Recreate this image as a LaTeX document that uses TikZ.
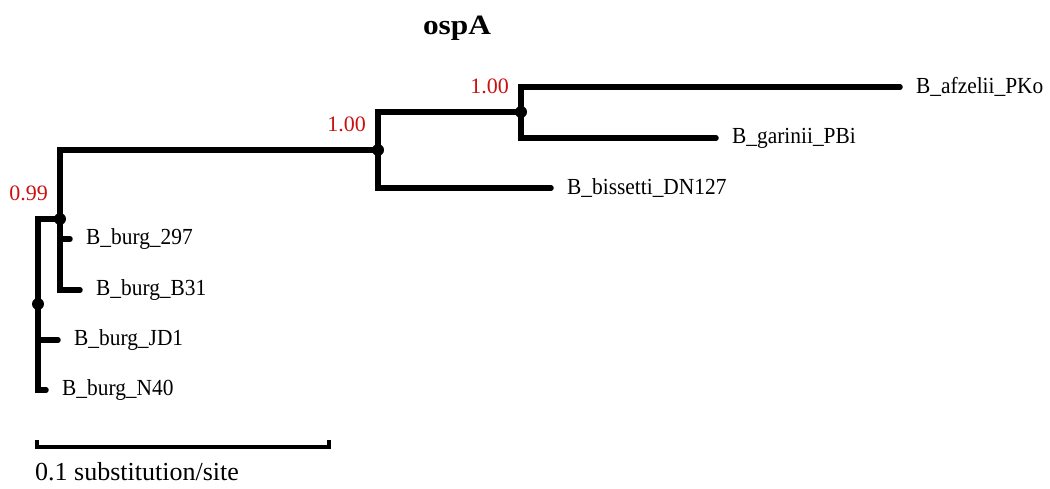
\documentclass[tikz,border=0pt]{standalone}
\usepackage{fontspec}
\setmainfont{Liberation Serif}
\definecolor{suppred}{RGB}{204,16,16}
\newcommand{\taxname}[1]{\scalebox{0.93}[1]{#1}}
\begin{document}
\begin{tikzpicture}[x=1pt,y=-1pt,
  branch/.style={line width=5.5pt, line cap=round, line join=miter},
  nodedot/.style={circle, fill=black, inner sep=0pt, minimum size=12pt},
  taxon/.style={anchor=west, inner sep=0pt, xshift=16pt,
    font=\fontsize{23}{25}\selectfont},
  support/.style={anchor=base east, inner sep=0pt, xshift=-12pt, yshift=18pt,
    text=suppred, font=\fontsize{22}{24}\selectfont},
  scalebar/.style={line width=4.5pt, line join=miter}]
\useasboundingbox (0,0) rectangle (1050,489);

% title
\node[anchor=base, inner sep=0pt, font=\fontsize{28}{30}\selectfont\bfseries]
  (title) at (457,35) {\scalebox{1.12}[1]{ospA}};

% internal nodes
\coordinate (R) at (38,304);
\coordinate (A) at (60,219);
\coordinate (C) at (378,150);
\coordinate (D) at (521,112);

% tips (end of branch)
\coordinate (afz) at (900,87);
\coordinate (gar) at (716,138);
\coordinate (bis) at (551,188);
\coordinate (b297) at (70,239);
\coordinate (b31) at (80,290);
\coordinate (jd1) at (58,340);
\coordinate (n40) at (46,390);

% branches
\draw[branch] (R) |- (A);
\draw[branch] (R) |- (jd1);
\draw[branch] (R) |- (n40);
\draw[branch] (A) |- (C);
\draw[branch] (A) |- (b297);
\draw[branch] (A) |- (b31);
\draw[branch] (C) |- (D);
\draw[branch] (C) |- (bis);
\draw[branch] (D) |- (afz);
\draw[branch] (D) |- (gar);

% node dots
\node[nodedot] (dR) at (R) {};
\node[nodedot] (dA) at (A) {};
\node[nodedot] (dC) at (C) {};
\node[nodedot] (dD) at (D) {};

% support values
\node[support] (sA) at (A) {0.99};
\node[support] (sC) at (C) {1.00};
\node[support] (sD) at (D) {1.00};

% tip labels
\node[taxon] (lafz) at (afz) {\taxname{B\_afzelii\_PKo}};
\node[taxon] (lgar) at (gar) {\taxname{B\_garinii\_PBi}};
\node[taxon] (lbis) at (bis) {\taxname{B\_bissetti\_DN127}};
\node[taxon] (l297) at (b297) {\taxname{B\_burg\_297}};
\node[taxon] (lb31) at (b31) {\taxname{B\_burg\_B31}};
\node[taxon] (ljd1) at (jd1) {\taxname{B\_burg\_JD1}};
\node[taxon] (ln40) at (n40) {\taxname{B\_burg\_N40}};

% scale bar
\coordinate (sbL) at (37,447);
\coordinate (sbR) at (329,447);
\draw[scalebar] ([yshift=7pt]sbL) -- (sbL) -- (sbR) -- ([yshift=7pt]sbR);
\node[anchor=base west, inner sep=0pt, font=\fontsize{26}{28}\selectfont]
  (sblabel) at (35,480) {0.1 substitution/site};
\end{tikzpicture}
\end{document}
